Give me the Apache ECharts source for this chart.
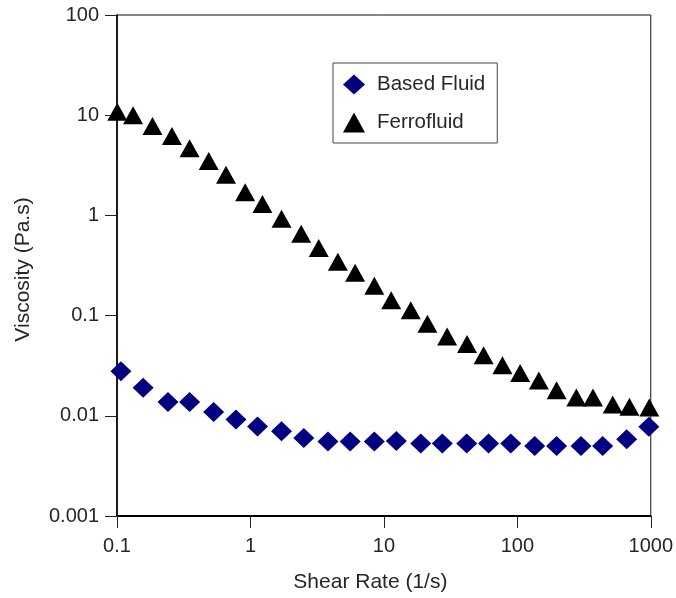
<!DOCTYPE html>
<html>
<head>
<meta charset="utf-8">
<script src="https://cdn.jsdelivr.net/npm/echarts@6/dist/echarts.min.js"></script>
<style>
html,body{margin:0;padding:0;background:#fff;}
#chart{width:676px;height:598px;}
</style>
</head>
<body>
<div id="chart"></div>
<script>
// Shear rate (1/s) and viscosity (Pa.s)
const basedFluidX = [0.107, 0.157, 0.241, 0.35, 0.53, 0.779, 1.13, 1.71, 2.51, 3.81, 5.59, 8.48, 12.4, 18.9, 27.4, 41.8, 60.9, 89.3, 135, 197, 300, 436, 660, 968];
const basedFluidY = [0.0279, 0.0191, 0.0137, 0.0137, 0.0109, 0.0092, 0.0078, 0.0070, 0.0060, 0.00555, 0.00555, 0.00555, 0.0056, 0.0053, 0.0053, 0.0053, 0.0053, 0.0053, 0.0050, 0.0050, 0.0050, 0.0050, 0.00585, 0.00776];
const ferroX = [0.1005, 0.132, 0.1845, 0.258, 0.35, 0.487, 0.656, 0.913, 1.23, 1.71, 2.40, 3.25, 4.52, 6.09, 8.48, 11.35, 15.9, 21.2, 29.8, 42.0, 55.9, 77.4, 105, 145, 197, 277, 369, 519, 692, 975];
const ferroY = [10.8, 9.96, 7.80, 6.20, 4.68, 3.50, 2.55, 1.70, 1.30, 0.925, 0.657, 0.474, 0.344, 0.267, 0.198, 0.142, 0.113, 0.0831, 0.062, 0.052, 0.0402, 0.032, 0.0268, 0.0225, 0.018, 0.0152, 0.0152, 0.0130, 0.0123, 0.0121];
const xTickLabels = ['0.1', '1', '10', '100', '1000'];
const yTickLabels = ['0.001', '0.01', '0.1', '1', '10', '100'];
const seriesNames = ['Based Fluid', 'Ferrofluid'];
const xTitle = 'Shear Rate (1/s)';
const yTitle = 'Viscosity (Pa.s)';

function pickLabel(labels, v) {
  let best = labels[0], bd = Infinity;
  labels.forEach(l => {
    const d = Math.abs(Math.log10(parseFloat(l)) - Math.log10(v));
    if (d < bd) { bd = d; best = l; }
  });
  return bd < 0.01 ? best : '';
}

const FONT = "'Liberation Sans', Arial, sans-serif";
const TXT = '#262626';

const chart = echarts.init(document.getElementById('chart'), null, {renderer: 'canvas'});
chart.setOption({
  animation: false,
  backgroundColor: '#fff',
  grid: {left: 117, right: 23, top: 15, bottom: 79, show: true, borderColor: '#111', borderWidth: 1, containLabel: false},
  legend: {
    orient: 'vertical',
    left: 333, top: 63,
    padding: [11, 12, 10, 10],
    itemWidth: 22, itemHeight: 20, itemGap: 17,
    symbolKeepAspect: false,
    borderColor: '#444', borderWidth: 1,
    textStyle: {fontFamily: FONT, fontSize: 20.5, color: TXT, padding: [0, 0, 0, 7]},
    data: [
      {name: seriesNames[0], icon: 'diamond'},
      {name: seriesNames[1], icon: 'triangle'}
    ]
  },
  xAxis: {
    type: 'log', logBase: 10, min: 0.1, max: 1000, splitNumber: 4,
    name: xTitle, nameLocation: 'middle', nameGap: 56,
    nameTextStyle: {fontFamily: FONT, fontSize: 21, color: TXT, padding: [0, 27, 0, 0]},
    axisLine: {show: true, onZero: false, lineStyle: {color: '#000', width: 2}},
    axisTick: {show: true, inside: false, length: 12, lineStyle: {color: '#222', width: 1}},
    minorTick: {show: false},
    splitLine: {show: false},
    axisLabel: {margin: 20, fontFamily: FONT, fontSize: 20, color: TXT,
      formatter: v => pickLabel(xTickLabels, v)}
  },
  yAxis: {
    type: 'log', logBase: 10, min: 0.001, max: 100, splitNumber: 5,
    name: yTitle, nameLocation: 'middle', nameGap: 83,
    nameTextStyle: {fontFamily: FONT, fontSize: 21, color: TXT, padding: [0, 8, 0, 0]},
    axisLine: {show: true, onZero: false, lineStyle: {color: '#000', width: 1.6}},
    axisTick: {show: true, inside: false, length: 12, lineStyle: {color: '#222', width: 1}},
    minorTick: {show: false},
    splitLine: {show: false},
    axisLabel: {margin: 18, fontFamily: FONT, fontSize: 20, color: TXT,
      formatter: v => pickLabel(yTickLabels, v)}
  },
  series: [
    {
      name: seriesNames[0], type: 'scatter', symbol: 'diamond', symbolSize: [21, 20], clip: false,
      itemStyle: {color: '#000080', opacity: 1},
      data: basedFluidX.map((x, i) => [x, basedFluidY[i]])
    },
    {
      name: seriesNames[1], type: 'scatter', symbol: 'triangle', symbolSize: [20, 18], clip: false,
      itemStyle: {color: '#000', opacity: 1},
      data: ferroX.map((x, i) => [x, ferroY[i]])
    }
  ]
});
</script>
</body>
</html>
